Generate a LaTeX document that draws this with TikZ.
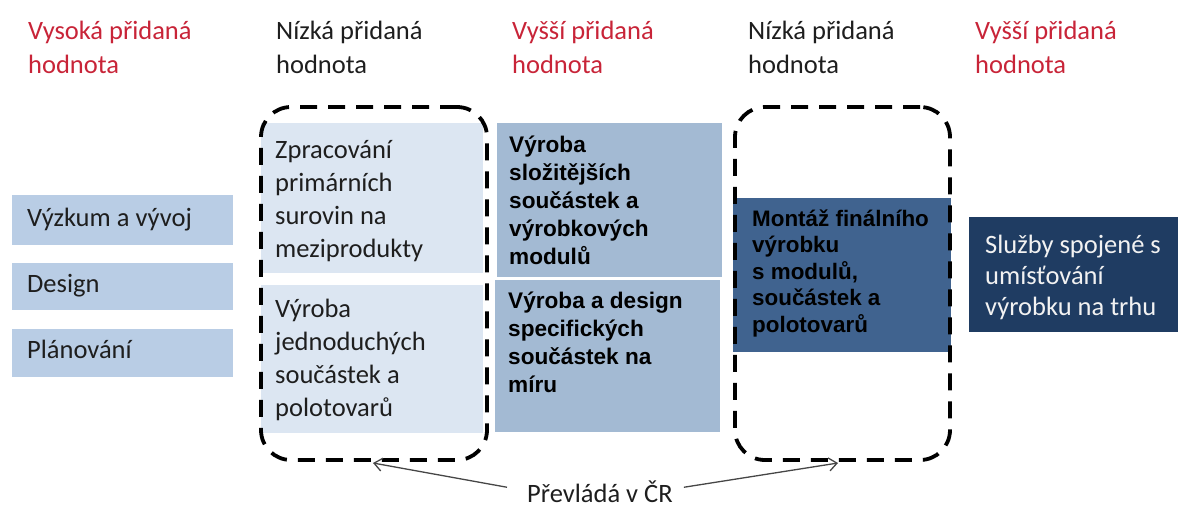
\documentclass[tikz,border=0pt]{standalone}
\usepackage{fontspec}
\setmainfont{Carlito}
\newfontfamily\arialfont{Liberation Sans}
\usetikzlibrary{arrows.meta}
\definecolor{hdrred}{RGB}{200,36,56}
\definecolor{hdrblack}{RGB}{30,30,30}
\definecolor{leftfill}{RGB}{185,205,229}
\definecolor{lightfill}{RGB}{220,230,242}
\definecolor{midfill}{RGB}{163,186,211}
\definecolor{montfill}{RGB}{64,99,143}
\definecolor{navyfill}{RGB}{31,60,98}
\definecolor{arrowgray}{RGB}{70,70,70}
\newcommand\fixtop{\rule{0pt}{25pt}}
\tikzset{
  box/.style={rectangle, draw=none, inner sep=0pt},
  dashbox/.style={rectangle, draw=black, line width=3.8pt, rounded corners=30pt,
    dash pattern=on 17pt off 11pt, inner sep=0pt},
  hdr/.style={anchor=north west, inner sep=0pt, align=left,
    font=\fontsize{26.5}{34}\selectfont},
  calibritext/.style={anchor=north west, inner sep=0pt, align=left,
    font=\fontsize{26.5}{33.2}\selectfont, text=hdrblack},
  boldtext/.style={anchor=north west, inner sep=0pt, align=left,
    font=\arialfont\bfseries\fontsize{22.6}{28}\selectfont, text=black},
  linetext/.style={anchor=base west, inner sep=0pt,
    font=\fontsize{26.5}{32}\selectfont, text=hdrblack},
  pointer/.style={draw=arrowgray, line width=1.3pt,
    -{Straight Barb[length=8pt,width=13pt,line width=1.3pt]}}
}
\begin{document}
\begin{tikzpicture}[x=1pt,y=-1pt]
\useasboundingbox (0,0) rectangle (1178,509);

% headers
\node[hdr, text=hdrred]   (h1) at (28,14)  {\fixtop Vysoká přidaná\\hodnota};
\node[hdr, text=hdrblack] (h2) at (276,14) {\fixtop Nízká přidaná\\hodnota};
\node[hdr, text=hdrred]   (h3) at (512,14) {\fixtop Vyšší přidaná\\hodnota};
\node[hdr, text=hdrblack] (h4) at (748,14) {\fixtop Nízká přidaná\\hodnota};
\node[hdr, text=hdrred]   (h5) at (975,14) {\fixtop Vyšší přidaná\\hodnota};

% left boxes
\node[box, fill=leftfill, minimum width=221pt, minimum height=50pt] (lb1) at (122.5,220) {};
\node[box, fill=leftfill, minimum width=221pt, minimum height=47pt] (lb2) at (122.5,286.5) {};
\node[box, fill=leftfill, minimum width=221pt, minimum height=48pt] (lb3) at (122.5,353) {};
\node[linetext] (lt1) at (27,226) {Výzkum a vývoj};
\node[linetext] (lt2) at (27,292) {Design};
\node[linetext] (lt3) at (27,358) {Plánování};

% light boxes
\node[box, fill=lightfill, minimum width=222pt, minimum height=150pt] (pb1) at (372,198) {};
\node[box, fill=lightfill, minimum width=222pt, minimum height=148pt] (pb2) at (372,359) {};

% middle boxes
\node[box, fill=midfill, minimum width=225pt, minimum height=154pt] (mb1) at (609.5,200) {};
\node[box, fill=midfill, minimum width=225pt, minimum height=152pt] (mb2) at (607.5,356) {};

% assembly box
\node[box, fill=montfill, minimum width=218pt, minimum height=154pt] (ab) at (842,275) {};

% services box
\node[box, fill=navyfill, minimum width=209pt, minimum height=115pt] (sb) at (1073.5,274.5) {};

% dashed groups
\node[dashbox, minimum width=226pt, minimum height=353pt] (d1) at (374,283.5) {};
\node[dashbox, minimum width=215pt, minimum height=353pt] (d2) at (842.5,283.5) {};

% box texts
\node[calibritext] (pt1) at (275,133) {\fixtop Zpracování\\primárních\\surovin na\\meziprodukty};
\node[calibritext] (pt2) at (275,292) {\fixtop Výroba\\jednoduchých\\součástek a\\polotovarů};
\node[boldtext] (mt1) at (509,127) {\fixtop Výroba\\složitějších\\součástek a\\výrobkových\\modulů};
\node[boldtext] (mt2) at (508,283) {\fixtop Výroba a design\\specifických\\součástek na\\míru};
\node[boldtext, font=\arialfont\bfseries\fontsize{22.4}{26.5}\selectfont] (at) at (752,201)
  {\fixtop Montáž finálního\\výrobku\\s modulů,\\součástek a\\polotovarů};
\node[calibritext, text={rgb,255:red,242;green,242;blue,242}, font=\fontsize{26.5}{31}\selectfont] (st) at (985,228)
  {\fixtop Služby spojené s\\umísťování\\výrobku na trhu};

% bottom note with arrows
\node[linetext] (prev) at (527,502) {Převládá v ČR};
\coordinate (tipL) at (373,463);
\coordinate (tipR) at (838,463);
\draw[pointer] ([xshift=-20pt,yshift=4pt]prev.west) -- (tipL);
\draw[pointer] ([xshift=11pt,yshift=4pt]prev.east) -- (tipR);
\end{tikzpicture}
\end{document}
